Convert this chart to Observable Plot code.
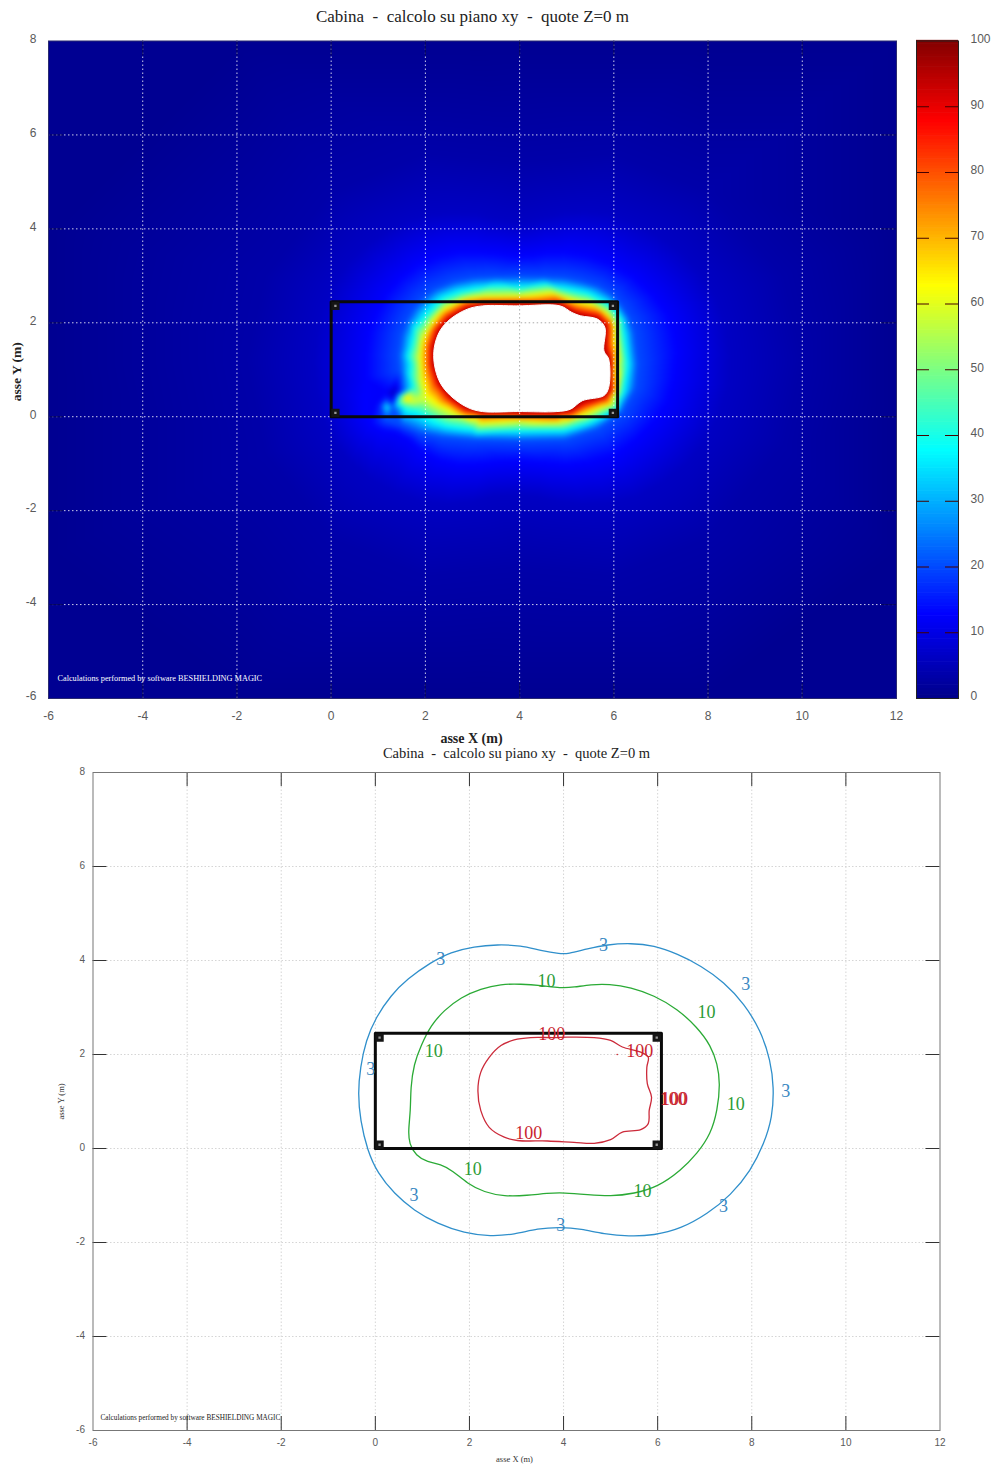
<!DOCTYPE html>
<html><head><meta charset="utf-8">
<style>html,body{margin:0;padding:0;background:#fff}#page{position:relative;width:991px;height:1465px;overflow:hidden}#page svg{position:absolute;background:transparent;overflow:visible}</style>
<script src="https://cdn.jsdelivr.net/npm/d3@7"></script>
<script src="https://cdn.jsdelivr.net/npm/@observablehq/plot@0.6"></script>
</head><body><div id="page"></div>
<script>
const titleText = "Cabina  -  calcolo su piano xy  -  quote Z=0 m";
const xLabel = "asse X (m)", yLabel = "asse Y (m)";
const creditTop = "Calculations performed by software BESHIELDING MAGIC";
const xTicks = [-6,-4,-2,0,2,4,6,8,10,12];
const yTicks = [-6,-4,-2,0,2,4,6,8];
const xGrid = [-4,-2,0,2,4,6,8,10];
const yGrid = [-4,-2,0,2,4,6];
const barTicks = [0,10,20,30,40,50,60,70,80,90,100];
const barSteps = d3.range(0,100,0.5);
const jetDomain = [0,12.5,37.5,62.5,87.5,100];
const jetRange = ["#00008c","#0000ff","#00ffff","#ffff00","#ff0000","#800000"];
const roomOutline = [[0,0],[6.08,0],[6.08,2.45],[0,2.45],[0,0]];
const roomCorners = [[0.09,0.08],[5.98,0.08],[5.98,2.36],[0.09,2.36]];

const contour3 = [[3.94,4.14],[3.52,4.21],[3.09,4.32],[2.6,4.34],[2.1,4.3],[1.6,4.18],[1.18,3.96],[0.68,3.61],[0.33,3.26],[0.01,2.79],[-0.2,2.3],[-0.32,1.73],[-0.37,1.17],[-0.32,0.6],[-0.17,-0.04],[0.05,-0.53],[0.4,-0.96],[0.82,-1.32],[1.32,-1.6],[1.89,-1.8],[2.45,-1.87],[2.95,-1.83],[3.45,-1.7],[3.94,-1.67],[4.37,-1.71],[4.86,-1.82],[5.39,-1.87],[5.92,-1.85],[6.49,-1.71],[7.06,-1.39],[7.55,-1],[7.98,-0.47],[8.26,0.1],[8.44,0.67],[8.47,1.3],[8.4,1.87],[8.19,2.51],[7.84,3.08],[7.41,3.54],[6.92,3.89],[6.42,4.14],[5.92,4.32],[5.43,4.37],[4.93,4.34],[4.51,4.25],[4.08,4.14]];
const contour10 = [[3.94,3.41],[3.52,3.47],[3.09,3.5],[2.67,3.5],[2.24,3.4],[1.82,3.22],[1.46,2.94],[1.18,2.62],[0.97,2.19],[0.82,1.8],[0.75,1.3],[0.75,0.81],[0.7,0.38],[0.72,0.1],[0.86,-0.15],[1.11,-0.29],[1.39,-0.33],[1.64,-0.47],[1.96,-0.75],[2.31,-0.93],[2.74,-1.02],[3.23,-1],[3.66,-0.95],[4.01,-0.94],[4.51,-0.98],[5,-1.02],[5.5,-0.96],[6,-0.82],[6.49,-0.47],[6.84,-0.11],[7.13,0.31],[7.27,0.81],[7.33,1.38],[7.27,1.8],[7.13,2.19],[6.84,2.58],[6.42,2.97],[5.92,3.26],[5.43,3.43],[4.97,3.5],[4.58,3.49],[4.22,3.43]];
const contour100 = [[3.8,2.36],[3.3,2.36],[2.95,2.31],[2.67,2.19],[2.42,1.94],[2.24,1.62],[2.18,1.23],[2.24,0.81],[2.42,0.45],[2.74,0.24],[3.02,0.17],[3.66,0.16],[4.22,0.13],[4.65,0.11],[5,0.19],[5.25,0.35],[5.64,0.4],[5.8,0.53],[5.82,0.81],[5.87,1.09],[5.78,1.38],[5.77,1.73],[5.8,1.94],[5.64,2.05],[5.25,2.16],[5,2.3],[4.65,2.36],[4.08,2.37]];
const saturated = [[3.21,2.36],[3.96,2.36],[4.86,2.36],[5.11,2.22],[5.29,2.15],[5.65,2.08],[5.81,1.9],[5.79,1.4],[5.89,1.23],[5.89,0.62],[5.79,0.45],[5.33,0.34],[5.08,0.16],[4.79,0.11],[3.96,0.11],[3.21,0.11],[2.89,0.2],[2.53,0.45],[2.31,0.73],[2.19,1.12],[2.19,1.48],[2.31,1.83],[2.53,2.08],[2.89,2.29]];
const ring80 = [[3.21,2.45],[4,2.46],[4.9,2.45],[5.2,2.3],[5.7,2.2],[5.92,1.98],[5.96,1.3],[5.99,1.1],[5.98,0.55],[5.85,0.35],[5.4,0.22],[5.1,0.05],[4.8,0],[4,0],[3.2,0.02],[2.85,0.1],[2.45,0.37],[2.2,0.68],[2.07,1.1],[2.07,1.5],[2.2,1.88],[2.43,2.15],[2.85,2.39]];
const ring60 = [[3.2,2.56],[4,2.57],[4.9,2.57],[5.36,2.43],[5.79,2.25],[6.02,1.95],[6.05,1.12],[6.02,0.5],[5.8,0.22],[5.3,0.02],[4.9,-0.08],[4,-0.09],[3.1,-0.06],[2.6,0.08],[2.2,0.27],[2,0.42],[1.92,0.76],[1.88,1.26],[1.95,1.69],[2.14,2],[2.5,2.35],[2.8,2.5]];
const ring40 = [[3.1,2.7],[4,2.72],[4.94,2.7],[5.43,2.6],[5.9,2.36],[6.18,1.8],[6.26,1.12],[6.16,0.48],[5.88,0.1],[5.43,-0.12],[4.94,-0.26],[4,-0.27],[3.03,-0.25],[2.32,-0.12],[1.83,0.13],[1.76,0.62],[1.72,1.12],[1.76,1.62],[1.98,2.08],[2.39,2.5],[2.75,2.63]];
const ring20 = [[3.03,2.95],[3.5,2.97],[4,2.98],[4.5,2.97],[4.94,2.95],[5.3,2.88],[5.65,2.78],[5.95,2.6],[6.14,2.38],[6.32,2.1],[6.42,1.8],[6.5,1.12],[6.45,0.62],[6.16,0.1],[5.65,-0.25],[4.94,-0.48],[4,-0.5],[3.03,-0.48],[2.3,-0.42],[1.85,-0.33],[1.5,-0.18],[1.47,1],[1.44,1.3],[1.51,1.76],[1.62,2.05],[1.76,2.29],[1.95,2.52],[2.18,2.7],[2.6,2.87]];
const ring2 = [[4,5.4],[2,5.6],[0,4.8],[-1.4,3],[-1.8,1.2],[-1.4,-0.8],[0,-2.6],[2,-3.4],[4,-3.2],[6,-3.4],[8,-2.6],[9.6,-0.6],[10,1.2],[9.6,3],[8,4.8],[6,5.6]];
const farField = [[-6,8],[-2,8],[3,8],[8,8],[12,8],[12,4],[12,0],[12,-3],[12,-6],[8,-6],[3,-6],[-2,-6],[-6,-6],[-6,-3],[-6,1],[-6,4]];
const blobs = [[1.2,0.21,38],[1.59,0.41,68],[1.59,0.2,42],[1.34,0.49,5],[1.42,0.05,20],[0.95,0.25,12],[1.17,-0.08,20],[1.17,0.52,12],[1.76,0.32,58],[1.17,0.4,16],[1.03,0.23,16],[1.3,0.2,20],[3.5,1.2,100],[4.5,1.2,100]];
const labels3 = [[4.85,4.32],[1.39,4.02],[7.87,3.49],[8.72,1.21],[7.4,-1.23],[3.94,-1.64],[0.82,-1],[-0.1,1.68]];
const labels10 = [[3.64,3.55],[7.04,2.89],[1.24,2.06],[7.66,0.94],[2.07,-0.45],[5.68,-0.91]];
const labels100 = [[3.75,2.43],[5.62,2.06],[6.33,1.04],[6.36,1.04],[3.26,0.32]];

const field = [
  ...farField.map(([x,y])=>({x,y,v:0.6})),
  ...ring2.map(([x,y])=>({x,y,v:3.2})),
  ...contour3.map(([x,y])=>({x,y,v:6})),
  ...contour10.map(([x,y])=>({x,y,v:12.5})),
  ...ring20.map(([x,y])=>({x,y,v:20})),
  ...ring40.map(([x,y])=>({x,y,v:40})),
  ...ring60.map(([x,y])=>({x,y,v:60})),
  ...ring80.map(([x,y])=>({x,y,v:80})),
  ...saturated.map(([x,y])=>({x,y,v:96})),
  ...blobs.map(([x,y,v])=>({x,y,v}))
];
const SERIF = "Liberation Serif", SANS = "Liberation Sans";
const X = d=>d[0], Y = d=>d[1];
const room = [
  Plot.line(roomOutline,{x:X,y:Y,stroke:"#0a0a0a",strokeWidth:3,curve:"linear"}),
  Plot.dot(roomCorners,{x:X,y:Y,symbol:"square",r:3,stroke:"#151515",strokeWidth:3,fill:"#999"})
];
function edgeTicks(color,len,w,h){return [
  Plot.tickX(xGrid,{x:d=>d,insetTop:h-len,stroke:color}),
  Plot.tickX(xGrid,{x:d=>d,insetBottom:h-len,stroke:color}),
  Plot.tickY(yGrid,{y:d=>d,insetLeft:w-len,stroke:color}),
  Plot.tickY(yGrid,{y:d=>d,insetRight:w-len,stroke:color})
];}
const axes = (fs,color,px,py,dyY) => [
  Plot.axisX(xTicks,{anchor:"bottom",tickSize:0,tickPadding:px,fontSize:fs,fontFamily:SANS,fill:color,label:null,tickFormat:d=>d}),
  Plot.axisY(yTicks,{anchor:"left",tickSize:0,tickPadding:py,fontSize:fs,fontFamily:SANS,fill:color,label:null,dy:dyY,tickFormat:d=>d})
];
const colorOpt = {type:"linear",domain:jetDomain,range:jetRange,interpolate:"rgb",clamp:true};

const upperPanel = Plot.plot({
  width:991,height:746,marginLeft:48,marginRight:95,marginTop:40.5,marginBottom:48,
  style:{background:"transparent"},
  x:{domain:[-6,12]},y:{domain:[-6,8]},color:colorOpt,
  marks:[
    Plot.raster(field,{x:d=>d.x,y:d=>d.y,fill:d=>d.v,interpolate:"barycentric",pixelSize:1,blur:2,imageRendering:"auto"}),
    Plot.ruleX(xGrid,{x:d=>d,stroke:"#fff",strokeOpacity:0.8,strokeDasharray:"1.5,2.5"}),
    Plot.ruleY(yGrid,{y:d=>d,stroke:"#fff",strokeOpacity:0.8,strokeDasharray:"1.5,2.5"}),
    ...edgeTicks("#05055e",15,848,657.5),
    Plot.line(saturated,{x:X,y:Y,curve:"catmull-rom-closed",fill:"#fff",stroke:"#fff",strokeWidth:1}),
    Plot.ruleX([4],{x:d=>d,y1:0.12,y2:2.35,stroke:"#aaa",strokeDasharray:"1.5,2.5"}),
    Plot.ruleY([2],{y:d=>d,x1:2.42,x2:5.78,stroke:"#aaa",strokeDasharray:"1.5,2.5"}),
    ...room,
    Plot.frame({stroke:"#2a2a70"}),
    ...axes(12,"#5a5a5a",13,12,-2),
    Plot.text([creditTop],{frameAnchor:"bottom-left",dx:9,dy:-20,text:d=>d,fill:"#fff",fontSize:8.25,fontFamily:SERIF,lineAnchor:"middle"}),
    Plot.text([titleText],{frameAnchor:"top",dy:-24.5,text:d=>d,fontSize:17,fontFamily:SERIF,fill:"#222",lineAnchor:"middle"}),
    Plot.text([xLabel],{frameAnchor:"bottom",dx:-1,dy:40,text:d=>d,fontSize:14,fontWeight:"bold",fontFamily:SERIF,fill:"#222",lineAnchor:"middle"}),
    Plot.text([yLabel],{frameAnchor:"left",dx:-32,dy:2,text:d=>d,rotate:-90,fontSize:13.5,fontWeight:"bold",fontFamily:SERIF,fill:"#222",textAnchor:"middle",lineAnchor:"middle"})
  ]
});
upperPanel.style.left="0";upperPanel.style.top="0";

const colorBar = Plot.plot({
  width:91,height:720,marginLeft:16,marginRight:33,marginTop:40.5,marginBottom:22,
  style:{background:"transparent"},
  x:{axis:null},y:{domain:[0,100]},color:colorOpt,
  marks:[
    Plot.rectY(barSteps,{y1:d=>d,y2:d=>d+0.6,fill:d=>d}),
    Plot.tickY(barTicks.slice(1,-1),{y:d=>d,insetLeft:29,stroke:"#400"}),
    Plot.tickY(barTicks.slice(1,-1),{y:d=>d,insetRight:29,stroke:"#400"}),
    Plot.frame({stroke:"#222"}),
    Plot.axisY(barTicks,{anchor:"right",tickSize:0,tickPadding:12,dy:-2,fontSize:12,fontFamily:SANS,fill:"#5a5a5a",label:null,textAnchor:"start",tickFormat:d=>d})
  ]
});
colorBar.style.left="900px";colorBar.style.top="0";

const lab = (arr,txt,color) => Plot.text(arr,{x:X,y:Y,text:()=>txt,fill:color,fontFamily:SERIF,fontSize:18,lineAnchor:"middle"});
const lowerPanel = Plot.plot({
  width:991,height:719,marginLeft:92.5,marginRight:51.5,marginTop:26,marginBottom:35,
  style:{background:"transparent"},
  x:{domain:[-6,12]},y:{domain:[-6,8]},
  marks:[
    Plot.ruleX(xGrid,{x:d=>d,stroke:"#d5d5d5",strokeDasharray:"1.5,2"}),
    Plot.ruleY(yGrid,{y:d=>d,stroke:"#d5d5d5",strokeDasharray:"1.5,2"}),
    ...edgeTicks("#333",14,847,658),
    Plot.frame({stroke:"#777"}),
    Plot.line(contour3,{x:X,y:Y,curve:"basis-closed",stroke:"#2f8fcb",strokeWidth:1.3}),
    Plot.line(contour10,{x:X,y:Y,curve:"basis-closed",stroke:"#2aaa35",strokeWidth:1.3}),
    Plot.line(contour100,{x:X,y:Y,curve:"catmull-rom-closed",stroke:"#cc2a3a",strokeWidth:1.3}),
    ...room,
    lab(labels3,"3","#3a88c2"),lab(labels10,"10","#2c9c36"),lab(labels100,"100","#c9242e"),
    Plot.dot([[5.14,2]],{x:X,y:Y,r:0.8,fill:"#c9242e"}),
    ...axes(10,"#5a5a5a",8,8,-1),
    Plot.text([creditTop],{frameAnchor:"bottom-left",dx:7.5,dy:-13,text:d=>d,fill:"#222",fontSize:7.25,fontFamily:SERIF,lineAnchor:"middle"}),
    Plot.text([titleText],{frameAnchor:"top",dy:-19,text:d=>d,fontSize:14.5,fontFamily:SERIF,fill:"#222",lineAnchor:"middle"}),
    Plot.text([xLabel],{frameAnchor:"bottom",dx:-2,dy:29,text:d=>d,fontSize:8.5,fontFamily:SERIF,fill:"#333",lineAnchor:"middle"}),
    Plot.text([yLabel],{frameAnchor:"left",dx:-31.5,text:d=>d,rotate:-90,fontSize:8.5,fontFamily:SERIF,fill:"#333",textAnchor:"middle",lineAnchor:"middle"})
  ]
});
lowerPanel.style.left="0";lowerPanel.style.top="746px";
document.getElementById("page").append(upperPanel,colorBar,lowerPanel);
</script></body></html>
